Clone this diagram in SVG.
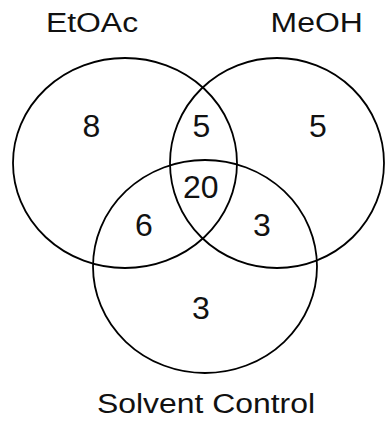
<svg xmlns="http://www.w3.org/2000/svg" width="385" height="421" viewBox="0 0 385 421">
  <style>
    .set { fill: none; stroke: #000; stroke-width: 1.8; }
    .label { font-family: "Liberation Sans", Arial, sans-serif; font-size: 28px; fill: #111; text-anchor: middle; }
    .count { font-family: "Liberation Sans", Arial, sans-serif; font-size: 32px; fill: #111; text-anchor: middle; }
  </style>
  <rect width="385" height="421" fill="#fff"/>

  <!-- set outlines -->
  <g id="sets">
    <g id="etoac"><ellipse class="set" cx="125" cy="163" rx="112" ry="105"/></g>
    <g id="meoh"><ellipse class="set" cx="277" cy="163" rx="107" ry="105"/></g>
    <g id="solvent-control"><ellipse class="set" cx="205" cy="266.5" rx="112" ry="106.5"/></g>
  </g>

  <!-- set names -->
  <g id="names">
    <text class="label" transform="translate(92,31.7) scale(1.14,1)">EtOAc</text>
    <text class="label" transform="translate(316.7,31.7) scale(1.14,1)">MeOH</text>
    <text class="label" transform="translate(206,413) scale(1.14,1)">Solvent Control</text>
  </g>

  <!-- region counts -->
  <g id="counts">
    <text class="count" x="91.3" y="136.5">8</text>
    <text class="count" x="201.3" y="136.5">5</text>
    <text class="count" x="318" y="136.5">5</text>
    <text class="count" x="200.8" y="198">20</text>
    <text class="count" x="144" y="236">6</text>
    <text class="count" x="262" y="236">3</text>
    <text class="count" x="201" y="319">3</text>
  </g>
</svg>
